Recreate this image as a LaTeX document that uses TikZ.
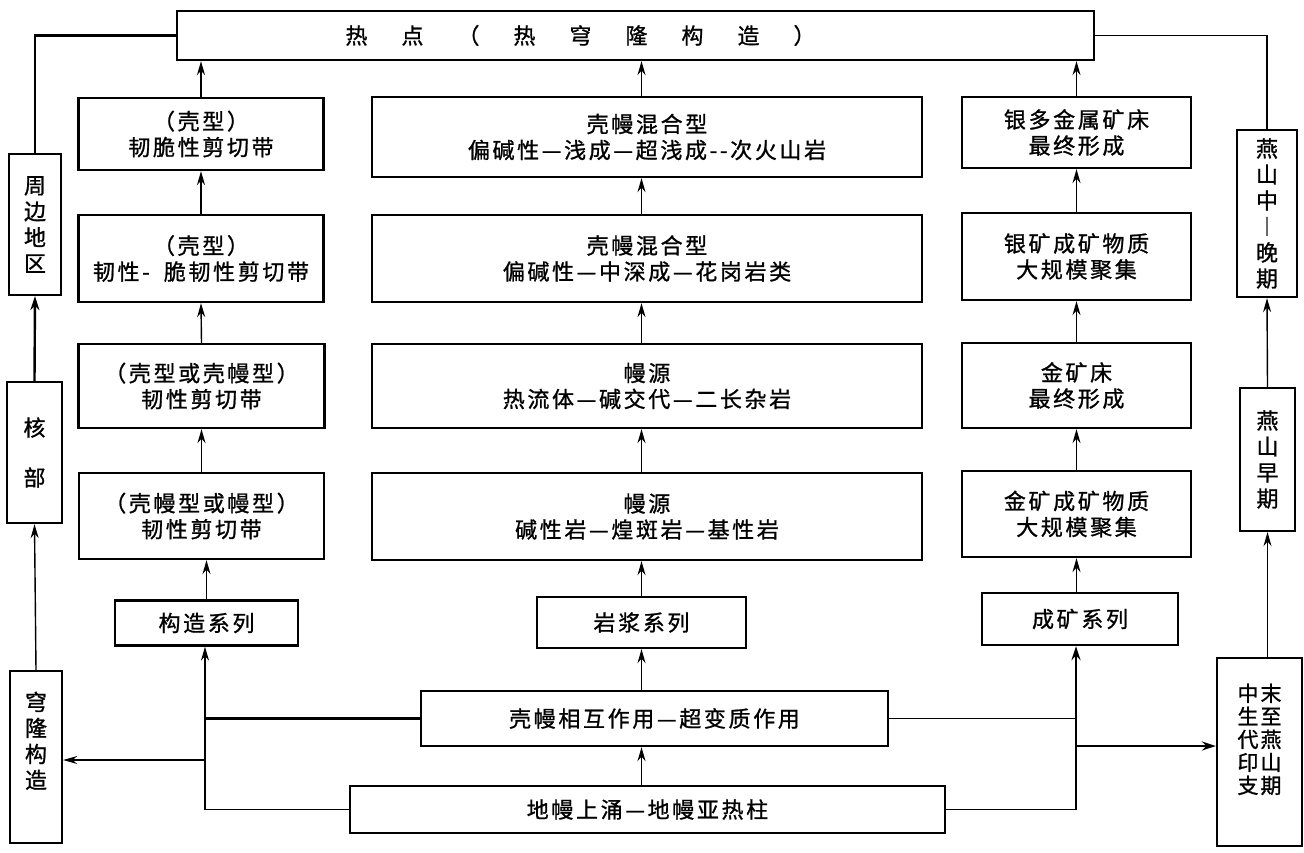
\documentclass[tikz,border=0pt]{standalone}
\usepackage{fontspec}
\setmainfont{Noto Sans CJK SC}[LetterSpace=12,FakeBold=1]
\usetikzlibrary{arrows.meta}
\begin{document}
\begin{tikzpicture}[x=1pt,y=-1pt,
  box/.style={draw, line width=2.3pt, inner sep=0pt, align=center, font=\fontsize{22}{26}\selectfont},
  arr/.style={line width=1.4pt, -{Stealth[length=14pt,width=8pt]}},
  tarr/.style={line width=2.4pt, -{Stealth[length=14pt,width=9pt]}},
  ln/.style={line width=1.4pt},
  tln/.style={line width=2.4pt}]
\fill[white] (0,0) rectangle (1304,852);
\useasboundingbox (0,0) rectangle (1304,852);
% top
\node[box, minimum width=917pt, minimum height=49pt] (top) at (635.5,35.5)
  {热\hspace{34pt}点\hspace{34pt}（\hspace{34pt}热\hspace{34pt}穹\hspace{34pt}隆\hspace{34pt}构\hspace{34pt}造\hspace{34pt}）\hspace{110pt}};
% left vertical boxes
\node[box, minimum width=52pt, minimum height=141pt] (zb) at (35,224.5) {周\\边\\地\\区};
\node[box, minimum width=55pt, minimum height=141pt] (hb) at (34.5,452.5) {核\\[24pt]部};
\node[box, minimum width=52pt, minimum height=172pt] (qb) at (36,757) {穹\\隆\\构\\造\\[8pt]};
% left column
\node[box, minimum width=245pt, minimum height=72pt] (b1) at (201,134) {（壳型）\\韧脆性剪切带};
\node[box, minimum width=245pt, minimum height=87pt] (b2) at (201,258.5) {（壳型）\\韧性-\hspace{14pt}脆韧性剪切带};
\node[box, minimum width=246pt, minimum height=84pt] (b3) at (201.5,386) {（壳型或壳幔型）\\韧性剪切带};
\node[box, minimum width=245pt, minimum height=86pt] (b4) at (201.5,516) {（壳幔型或幔型）\\韧性剪切带};
\node[box, minimum width=183pt, minimum height=45pt] (gz) at (206.5,623) {构造系列};
% middle column
\node[box, minimum width=550pt, minimum height=80pt] (m1) at (647,137) {壳幔混合型\\偏碱性—浅成—超浅成-{}-次火山岩};
\node[box, minimum width=550pt, minimum height=87pt] (m2) at (647,258.5) {壳幔混合型\\偏碱性—中深成—花岗岩类};
\node[box, minimum width=550pt, minimum height=84pt] (m3) at (647,386) {幔源\\热流体—碱交代—二长杂岩};
\node[box, minimum width=550pt, minimum height=87pt] (m4) at (647,516.5) {幔源\\碱性岩—煌斑岩—基性岩};
\node[box, minimum width=209pt, minimum height=51pt] (yj) at (641.5,622.5) {岩浆系列};
\node[box, minimum width=467pt, minimum height=55pt] (km) at (654.5,718.5) {壳幔相互作用—超变质作用};
\node[box, minimum width=595pt, minimum height=47pt] (dm) at (647.5,809.5) {地幔上涌—地幔亚热柱};
% right column
\node[box, minimum width=229pt, minimum height=71pt] (r1) at (1076.5,132.5) {银多金属矿床\\最终形成};
\node[box, minimum width=229pt, minimum height=87pt] (r2) at (1076.5,256.5) {银矿成矿物质\\大规模聚集};
\node[box, minimum width=229pt, minimum height=85pt] (r3) at (1076.5,385.5) {金矿床\\最终形成};
\node[box, minimum width=229pt, minimum height=86pt] (r4) at (1076.5,514) {金矿成矿物质\\大规模聚集};
\node[box, minimum width=196pt, minimum height=52pt] (ck) at (1080,619) {成矿系列};
% right vertical boxes
\node[box, minimum width=60pt, minimum height=167pt] (ys1) at (1267,213.5) {燕\\山\\中\\︱\\晚\\期};
\node[box, minimum width=55pt, minimum height=143pt] (ys2) at (1267.5,459.5) {燕\\山\\早\\期};
\node[box, minimum width=85pt, minimum height=188pt, font=\fontsize{21}{23}\selectfont] (zs) at (1259.5,752)
  {中\hspace{2pt}末\\生\hspace{2pt}至\\代\hspace{2pt}燕\\印\hspace{2pt}山\\支\hspace{2pt}期\\[4pt]};
% side connectors
\draw[tln] (top.west) -| (zb.north);
\draw[ln] (top.east) -| (ys1.north);
\draw[tarr] (hb.north) -- (zb.south);
\draw[arr] (qb.north) -- (hb.south);
\draw[arr] (zs.north -| ys2.south) -- (ys2.south);
\draw[arr] (ys2.north) -- (ys1.south);
% left column arrows
\draw[arr] (b1.north) -- (top.south -| b1.north);
\draw[arr] (b2.north) -- (b1.south);
\draw[arr] (b3.north) -- (b2.south);
\draw[arr] (b4.north) -- (b3.south);
\draw[arr] (gz.north) -- (gz.north |- b4.south);
% middle column arrows
\draw[arr] (m1.north -| yj.north) -- (top.south -| yj.north);
\draw[arr] (m2.north -| yj.north) -- (m1.south -| yj.north);
\draw[arr] (m3.north -| yj.north) -- (m2.south -| yj.north);
\draw[arr] (m4.north -| yj.north) -- (m3.south -| yj.north);
\draw[arr] (yj.north) -- (m4.south -| yj.north);
\draw[arr] (km.north -| yj.south) -- (yj.south);
\draw[arr] (dm.north -| yj.south) -- (km.south -| yj.south);
% right column arrows
\draw[arr] (r1.north) -- (top.south -| r1.north);
\draw[arr] (r2.north) -- (r1.south);
\draw[arr] (r3.north) -- (r2.south);
\draw[arr] (r4.north) -- (r3.south);
\draw[arr] (ck.north -| r4.south) -- (r4.south);
% junctions
\coordinate (jl) at (205,760);
\coordinate (jr) at (1076,746);
\draw[tln] (km.west) -- (km.west -| jl);
\draw[ln] (dm.west) -- (dm.west -| jl);
\draw[arr] (dm.west -| jl) -- (gz.south -| jl);
\draw[arr] (jl) -- (qb.east |- jl);
\draw[ln] (km.east) -- (km.east -| jr);
\draw[ln] (dm.east) -- (dm.east -| jr);
\draw[tarr] (dm.east -| jr) -- (ck.south -| jr);
\draw[tarr] (jr) -- (zs.west |- jr);
\end{tikzpicture}
\end{document}
